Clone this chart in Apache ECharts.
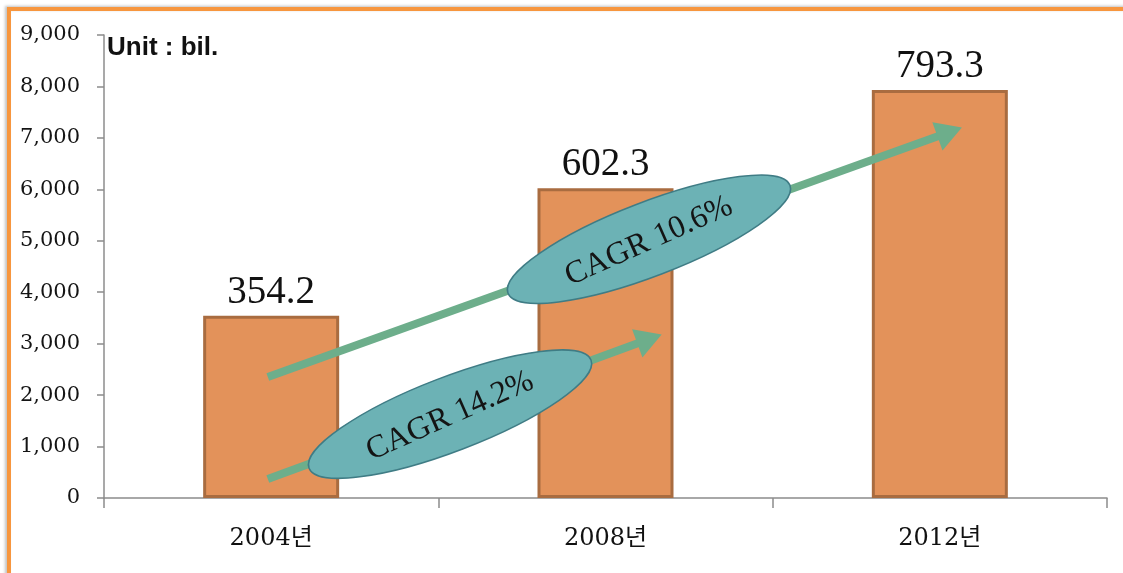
<!DOCTYPE html>
<html>
<head>
<meta charset="utf-8">
<script src="https://cdn.jsdelivr.net/npm/echarts@6/dist/echarts.min.js"></script>
<style>
  html, body { margin: 0; padding: 0; background: #ffffff; }
  #chart { width: 1123px; height: 573px; }
</style>
</head>
<body>
<div id="chart"></div>
<script>
// Market size by year (bil.)
const categories = ['2004년', '2008년', '2012년'];
const marketSize = [354.2, 602.3, 793.3];
const yTickLabels = ['0', '1,000', '2,000', '3,000', '4,000', '5,000', '6,000', '7,000', '8,000', '9,000'];
const unitText = 'Unit : bil.';
const cagrTexts = ['CAGR 14.2%', 'CAGR 10.6%'];

// Growth arrows and badges, anchored in [category index, value] space
const cagrLayout = [
  { from: [-0.01, 37], to: [1.168, 318], badge: [0.535, 163] },
  { from: [-0.01, 235], to: [2.066, 720], badge: [1.13, 503] }
];

const serif = "'Liberation Serif', 'Noto Sans CJK KR', serif";
const serifWide = "'DejaVu Serif', 'Noto Sans CJK KR', serif";

const chart = echarts.init(document.getElementById('chart'), null, { renderer: 'canvas' });

chart.setOption({
  animation: false,
  backgroundColor: '#ffffff',
  grid: { left: 104, right: 16, top: 35, bottom: 75 },
  xAxis: {
    type: 'category',
    data: categories,
    axisLine: { lineStyle: { color: '#8c8c8c', width: 1.5 } },
    axisTick: { show: true, alignWithLabel: false, length: 10, lineStyle: { color: '#8c8c8c', width: 1.5 } },
    axisLabel: { margin: 29, fontFamily: serifWide, fontSize: 24, color: '#111111' }
  },
  yAxis: {
    type: 'value',
    min: 0,
    max: 900,
    interval: 100,
    axisLine: { show: true, lineStyle: { color: '#8c8c8c', width: 1.5 } },
    axisTick: { show: true, length: 7, lineStyle: { color: '#8c8c8c', width: 1.5 } },
    splitLine: { show: false },
    axisLabel: {
      margin: 24,
      fontFamily: serifWide,
      fontSize: 21,
      color: '#141414',
      formatter: v => yTickLabels[Math.round(v / 100)]
    }
  },
  series: [{
    type: 'bar',
    data: marketSize,
    barWidth: 136,
    itemStyle: { color: '#e3925a', borderColor: '#a96c40', borderWidth: 3 },
    label: {
      show: true,
      position: 'top',
      distance: 4,
      fontFamily: serif,
      fontSize: 39,
      color: '#111111',
      formatter: p => p.value.toFixed(1)
    },
    z: 2
  }]
});

// Convert a [fractional category index, value] anchor into pixels
function toPx(pt) {
  const p0 = chart.convertToPixel({ gridIndex: 0 }, [0, pt[1]]);
  const p1 = chart.convertToPixel({ gridIndex: 0 }, [1, pt[1]]);
  return [p0[0] + pt[0] * (p1[0] - p0[0]), p0[1]];
}

const green = '#6dae8b';
const graphics = [];

// Outer frame
graphics.push({
  type: 'rect',
  shape: { x: 9, y: 9, width: 1140, height: 600 },
  style: { fill: null, stroke: '#f7963e', lineWidth: 4, shadowBlur: 3, shadowOffsetX: -2, shadowOffsetY: -1, shadowColor: 'rgba(0,0,0,0.25)' },
  z: 10
});

// Unit note
graphics.push({
  type: 'text',
  x: 107, y: 35,
  style: { text: unitText, fontFamily: "'Liberation Sans', Arial, sans-serif", fontWeight: 'bold', fontSize: 26, fill: '#111111' },
  z: 10
});

cagrLayout.forEach((a, i) => {
  const s = toPx(a.from), t = toPx(a.to), c = toPx(a.badge);
  const dx = t[0] - s[0], dy = t[1] - s[1];
  const len = Math.sqrt(dx * dx + dy * dy);
  const ux = dx / len, uy = dy / len;
  const headLen = 26, headHalf = 15;
  const base = [t[0] - ux * headLen, t[1] - uy * headLen];
  // arrow shaft
  graphics.push({
    type: 'line',
    shape: { x1: s[0], y1: s[1], x2: base[0] + ux * 2, y2: base[1] + uy * 2 },
    style: { stroke: green, lineWidth: 8, lineCap: 'butt' },
    z: 20
  });
  // arrow head
  graphics.push({
    type: 'polygon',
    shape: { points: [t, [base[0] - uy * headHalf, base[1] + ux * headHalf], [base[0] + uy * headHalf, base[1] - ux * headHalf]] },
    style: { fill: green },
    z: 20
  });
  // badge ellipse with rotated text
  const rot = 21 * Math.PI / 180;
  graphics.push({
    type: 'ellipse',
    x: c[0], y: c[1],
    rotation: rot,
    shape: { cx: 0, cy: 0, rx: 151, ry: 37 },
    style: { fill: '#6cb2b5', stroke: '#3f7c85', lineWidth: 1.5 },
    z: 30
  });
  graphics.push({
    type: 'text',
    x: c[0], y: c[1] + 2,
    rotation: 24 * Math.PI / 180,
    style: { text: cagrTexts[i], fontFamily: serif, fontSize: 32, fill: '#141414', align: 'center', verticalAlign: 'middle' },
    z: 31
  });
});

chart.setOption({ graphic: { elements: graphics } });
</script>
</body>
</html>
